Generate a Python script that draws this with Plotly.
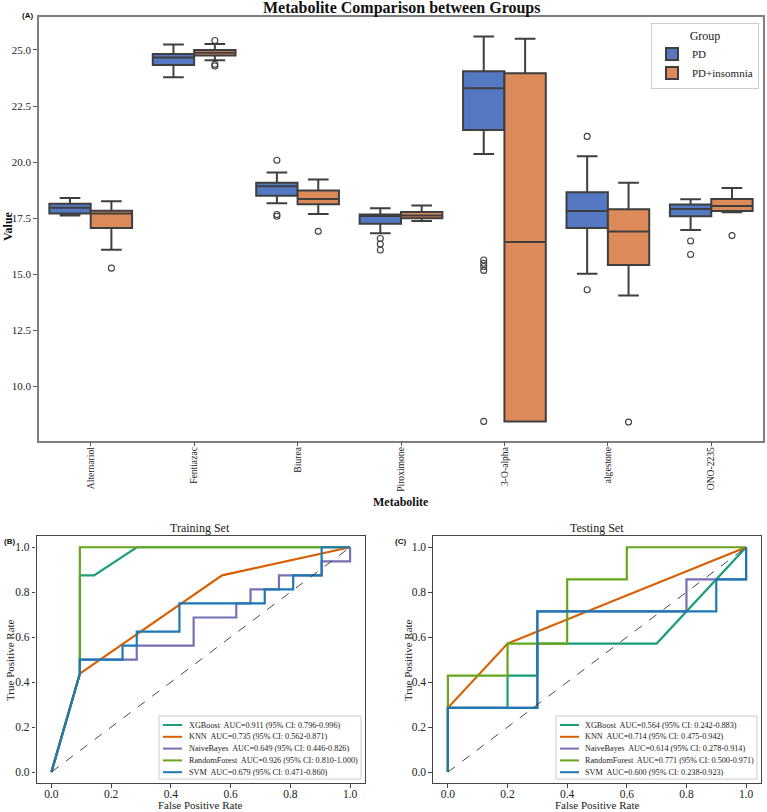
import plotly.graph_objects as go

W, H = 767, 812

# ---------------- Panel A data (box statistics) ----------------
metabolites = ["Alternariol", "Fentiazac", "Biurea", "Piroximone", "3-O-alpha", "algestone", "ONO-2235"]

pd_q1 = [17.71, 24.33, 18.51, 17.26, 21.43, 17.07, 17.59]
pd_median = [17.97, 24.67, 18.93, 17.60, 23.30, 17.83, 17.92]
pd_q3 = [18.15, 24.82, 19.09, 17.67, 24.05, 18.66, 18.11]
pd_low = [17.62, 23.78, 18.17, 16.83, 20.37, 15.03, 16.98]
pd_high = [18.41, 25.25, 19.54, 17.95, 25.60, 20.27, 18.35]
pd_outliers = [[], [], [20.09, 17.67, 17.59], [16.60, 16.35, 16.09],
               [15.64, 15.50, 15.35, 15.18, 8.45], [21.15, 14.32], [16.49, 15.89]]

ins_q1 = [17.07, 24.76, 18.13, 17.50, 8.45, 15.42, 17.83]
ins_median = [17.71, 24.88, 18.36, 17.63, 16.44, 16.91, 18.05]
ins_q3 = [17.84, 25.00, 18.74, 17.78, 23.96, 17.90, 18.36]
ins_low = [16.10, 24.54, 17.69, 17.38, 8.45, 14.06, 17.77]
ins_high = [18.26, 25.27, 19.23, 18.07, 25.50, 19.08, 18.85]
ins_outliers = [[15.28], [25.42, 24.36, 24.29], [16.92], [], [], [8.42], [16.73]]

group_names = ["PD", "PD+insomnia"]
group_colors = ["#5479c2", "#dc8a5a"]

# ---------------- Panels B / C data (ROC curves) ----------------
models = ["XGBoost", "KNN", "NaiveBayes", "RandomForest", "SVM"]
model_colors = ["#1b9e77", "#d95f02", "#7570b3", "#66a61e", "#1f78b4"]

train_auc = ["AUC=0.911 (95% CI: 0.796-0.996)", "AUC=0.735 (95% CI: 0.562-0.871)",
             "AUC=0.649 (95% CI: 0.446-0.826)", "AUC=0.926 (95% CI: 0.810-1.000)",
             "AUC=0.679 (95% CI: 0.471-0.860)"]
test_auc = ["AUC=0.564 (95% CI: 0.242-0.883)", "AUC=0.714 (95% CI: 0.475-0.942)",
            "AUC=0.614 (95% CI: 0.278-0.914)", "AUC=0.771 (95% CI: 0.500-0.971)",
            "AUC=0.600 (95% CI: 0.238-0.923)"]

train_fpr = [
    [0, 0.0952, 0.0952, 0.1429, 0.2857, 1.0],
    [0, 0.0952, 0.5714, 1.0],
    [0, 0.0952, 0.0952, 0.2857, 0.2857, 0.4762, 0.4762, 0.6190, 0.6190, 0.6667, 0.6667,
     0.7619, 0.7619, 0.9048, 0.9048, 1.0, 1.0],
    [0, 0.0952, 0.0952, 1.0],
    [0, 0.0952, 0.0952, 0.2381, 0.2381, 0.2857, 0.2857, 0.4286, 0.4286, 0.7143, 0.7143,
     0.8095, 0.8095, 0.9048, 0.9048, 1.0],
]
train_tpr = [
    [0, 0.4375, 0.875, 0.875, 1.0, 1.0],
    [0, 0.4375, 0.875, 1.0],
    [0, 0.4375, 0.5, 0.5, 0.5625, 0.5625, 0.6875, 0.6875, 0.75, 0.75, 0.8125,
     0.8125, 0.875, 0.875, 0.9375, 0.9375, 1.0],
    [0, 0.4375, 1.0, 1.0],
    [0, 0.4375, 0.5, 0.5, 0.5625, 0.5625, 0.625, 0.625, 0.75, 0.75, 0.8125,
     0.8125, 0.875, 0.875, 1.0, 1.0],
]
test_fpr = [
    [0, 0, 0.2, 0.2, 0.3, 0.3, 0.7, 1.0],
    [0, 0, 0.2, 1.0],
    [0, 0, 0.3, 0.3, 0.8, 0.8, 1.0, 1.0],
    [0, 0, 0.2, 0.2, 0.4, 0.4, 0.6, 0.6, 1.0],
    [0, 0, 0.3, 0.3, 0.9, 0.9, 1.0, 1.0],
]
test_tpr = [
    [0, 0.2857, 0.2857, 0.4286, 0.4286, 0.5714, 0.5714, 1.0],
    [0, 0.2857, 0.5714, 1.0],
    [0, 0.2857, 0.2857, 0.7143, 0.7143, 0.8571, 0.8571, 1.0],
    [0, 0.4286, 0.4286, 0.5714, 0.5714, 0.8571, 0.8571, 1.0, 1.0],
    [0, 0.2857, 0.2857, 0.7143, 0.7143, 0.8571, 0.8571, 1.0],
]

SERIF = "Liberation Serif"
SANS = "Liberation Sans"


def px(x):
    return x / W


def py(y):
    return 1 - y / H


fig = go.Figure()

# ---------------- Panel A ----------------
stats = [
    (pd_q1, pd_median, pd_q3, pd_low, pd_high, pd_outliers, -0.2),
    (ins_q1, ins_median, ins_q3, ins_low, ins_high, ins_outliers, 0.2),
]
for g, (q1, med, q3, lo, hi, outl, off) in enumerate(stats):
    xs = [i + off for i in range(len(metabolites))]
    fig.add_trace(go.Box(
        x=xs, q1=q1, median=med, q3=q3, lowerfence=lo, upperfence=hi,
        name=group_names[g], fillcolor=group_colors[g],
        line=dict(color="#3f3f3f", width=2), width=0.4, whiskerwidth=0.5,
        boxpoints=False, xaxis="x", yaxis="y", legend="legend",
    ))
    ox, oy = [], []
    for i, vals in enumerate(outl):
        for v in vals:
            ox.append(i + off)
            oy.append(v)
    fig.add_trace(go.Scatter(
        x=ox, y=oy, mode="markers", showlegend=False,
        marker=dict(symbol="circle-open", size=6, color="#3f3f3f", line=dict(width=1.1)),
        xaxis="x", yaxis="y", hoverinfo="y",
    ))

# ---------------- Panels B, C ----------------
panels = [("x2", "y2", train_fpr, train_tpr), ("x3", "y3", test_fpr, test_tpr)]
for xa, ya, fprs, tprs in panels:
    for m in range(len(models)):
        fig.add_trace(go.Scatter(
            x=fprs[m], y=tprs[m], mode="lines", name=models[m], showlegend=False,
            line=dict(color=model_colors[m], width=2.2), xaxis=xa, yaxis=ya,
        ))
    fig.add_trace(go.Scatter(
        x=[0, 1], y=[0, 1], mode="lines", showlegend=False,
        line=dict(color="#333333", width=0.9, dash="dash"), xaxis=xa, yaxis=ya,
    ))

# ---------------- Axes ----------------
top_dom_x = [px(39), px(763)]
top_dom_y = [py(440.5), py(17)]
bot_dom_y = [py(783.3), py(536)]
b_dom_x = [px(36.5), px(365)]
c_dom_x = [px(433), px(761)]

fig.update_layout(
    width=W, height=H, margin=dict(l=0, r=0, t=0, b=0),
    paper_bgcolor="white", plot_bgcolor="white", showlegend=True,
    xaxis=dict(domain=top_dom_x, anchor="y", range=[-0.5, 6.5],
               tickvals=list(range(len(metabolites))), ticktext=metabolites, tickangle=-90,
               showline=True, mirror=True, linecolor="#7f7f7f", linewidth=1.5,
               ticks="outside", ticklen=4, tickcolor="#555", showgrid=False, zeroline=False,
               ticklabelstandoff=-3,
               tickfont=dict(family=SERIF, size=9.6, color="#222")),
    yaxis=dict(domain=top_dom_y, anchor="x", range=[7.6, 26.47], tick0=0, dtick=2.5,
               tickformat=".1f", showline=True, mirror=True, linecolor="#7f7f7f", linewidth=1.5,
               ticks="outside", ticklen=4, tickcolor="#555", showgrid=False, zeroline=False,
               tickfont=dict(family=SERIF, size=11, color="#222")),
)
for xa, ya, dx in [("xaxis2", "yaxis2", b_dom_x), ("xaxis3", "yaxis3", c_dom_x)]:
    xn = xa.replace("axis", "")
    yn = ya.replace("axis", "")
    fig.update_layout(**{
        xa: dict(domain=dx, anchor=yn, range=[-0.05, 1.05], tick0=0, dtick=0.2, tickformat=".1f",
                 showline=True, mirror=True, linecolor="#444", linewidth=1.2,
                 ticks="outside", ticklen=3.5, tickcolor="#444", showgrid=False, zeroline=False,
                 ticklabelstandoff=-4,
                 tickfont=dict(family=SERIF, size=11.5, color="#222")),
        ya: dict(domain=bot_dom_y, anchor=xn, range=[-0.05, 1.05], tick0=0, dtick=0.2, tickformat=".1f",
                 showline=True, mirror=True, linecolor="#444", linewidth=1.2,
                 ticks="outside", ticklen=3.5, tickcolor="#444", showgrid=False, zeroline=False,
                 tickfont=dict(family=SERIF, size=11.5, color="#222")),
    })

fig.update_layout(legend=dict(
    x=px(759), y=py(23), xanchor="right", yanchor="top",
    bgcolor="white", bordercolor="#cccccc", borderwidth=1, tracegroupgap=0,
    font=dict(family=SERIF, size=11, color="#222"),
    title=dict(text="Group", side="top center", font=dict(family=SERIF, size=12, color="#222")),
    itemwidth=30,
))

# ---------------- Text annotations ----------------
ann = []
ann.append(dict(text="<b>Metabolite Comparison between Groups</b>", x=px(401), y=py(8),
                font=dict(family=SERIF, size=16, color="#111")))
ann.append(dict(text="<b>(A)</b>", x=px(27), y=py(16), font=dict(family=SANS, size=8, color="#111")))
ann.append(dict(text="<b>(B)</b>", x=px(9), y=py(541), font=dict(family=SANS, size=8, color="#111")))
ann.append(dict(text="<b>(C)</b>", x=px(400), y=py(541), font=dict(family=SANS, size=8, color="#111")))
ann.append(dict(text="<b>Value</b>", x=px(8), y=py(226), textangle=-90,
                font=dict(family=SERIF, size=12, color="#111")))
ann.append(dict(text="<b>Metabolite</b>", x=px(401), y=py(502),
                font=dict(family=SERIF, size=12, color="#111")))
for cx, title in [(200, "Training Set"), (597, "Testing Set")]:
    ann.append(dict(text=title, x=px(cx), y=py(528), font=dict(family=SERIF, size=12, color="#222")))
    ann.append(dict(text="False Positive Rate", x=px(cx), y=py(805),
                    font=dict(family=SERIF, size=11, color="#222")))
for lx in [10, 408]:
    ann.append(dict(text="True Positive Rate", x=px(lx), y=py(660), textangle=-90,
                    font=dict(family=SERIF, size=11, color="#222")))

shapes = []
# ROC legends (built from model names / AUC lists)
for (bx0, bx1, lx0, lx1, tx, aucs) in [(159, 361, 163, 182, 187, train_auc),
                                       (556, 757, 560, 579, 583, test_auc)]:
    shapes.append(dict(type="rect", xref="paper", yref="paper", x0=px(bx0), x1=px(bx1),
                       y0=py(779), y1=py(716), line=dict(color="#cccccc", width=1),
                       fillcolor="white", layer="above"))
    for k, m in enumerate(models):
        yy = 725 + 11.8 * k
        shapes.append(dict(type="line", xref="paper", yref="paper", x0=px(lx0), x1=px(lx1),
                           y0=py(yy), y1=py(yy), line=dict(color=model_colors[k], width=2),
                           layer="above"))
        ann.append(dict(text=f"{m}  {aucs[k]}", x=px(tx), y=py(yy), xanchor="left",
                        font=dict(family=SERIF, size=8.2, color="#222")))

for a in ann:
    a.setdefault("xref", "paper")
    a.setdefault("yref", "paper")
    a.setdefault("showarrow", False)
    a.setdefault("xanchor", "center")
    a.setdefault("yanchor", "middle")
fig.update_layout(annotations=ann, shapes=shapes)

fig.write_html("out.html")
